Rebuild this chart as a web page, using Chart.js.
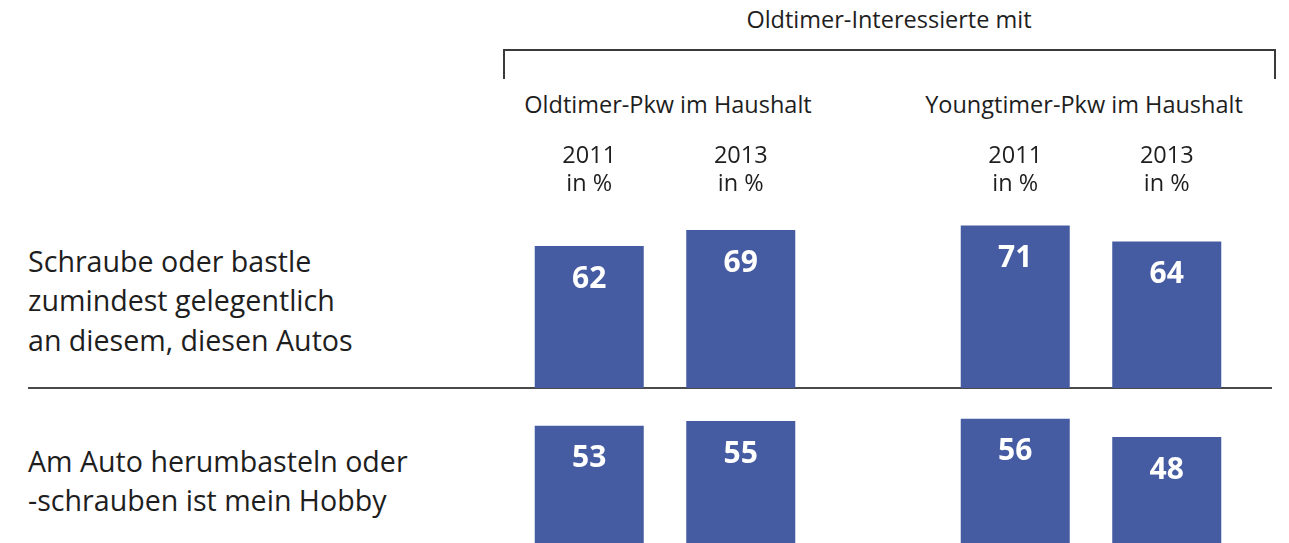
<!DOCTYPE html>
<html>
<head>
<meta charset="utf-8">
<script src="https://cdn.jsdelivr.net/npm/chart.js@4.4.1/dist/chart.umd.min.js"></script>
<style>
  html, body { margin: 0; padding: 0; background: #fff; overflow: hidden; width: 1289px; height: 543px; }
  body { position: relative; font-family: "Open Sans", sans-serif; color: #1e1e1e; }
  .t { position: absolute; white-space: nowrap; font-size: 23.5px; line-height: 23.5px; transform: translateX(-50%); text-align: center; }
  .row { position: absolute; left: 28px; font-size: 28.6px; line-height: 39.3px; white-space: nowrap; }
  .bracket { position: absolute; left: 503px; top: 49px; width: 773px; height: 30px; box-sizing: border-box;
             border: 2px solid #3a3a3a; border-bottom: none; }
  .sep { position: absolute; left: 28px; top: 386.5px; width: 1244px; height: 2px; background: #4a4a4a; }
  canvas { position: absolute; left: 452px; }
</style>
</head>
<body>
<div class="t" style="left:889px; top:8px;">Oldtimer-Interessierte mit</div>
<div class="bracket"></div>
<div class="sep"></div>
<canvas id="row1" width="852" height="229" style="top:159px;"></canvas>
<canvas id="row2" width="852" height="229" style="top:318px;"></canvas>

<script>
// data
const groups = ['Oldtimer-Pkw im Haushalt', 'Youngtimer-Pkw im Haushalt'];
const years = ['2011', '2013'];
const rowLabels = [
  ['Schraube oder bastle', 'zumindest gelegentlich', 'an diesem, diesen Autos'],
  ['Am Auto herumbasteln oder', '-schrauben ist mein Hobby']
];
// per group: [Oldtimer, Youngtimer]
const tinker2011 = [62, 71];
const tinker2013 = [69, 64];
const hobby2011 = [53, 56];
const hobby2013 = [55, 48];

const barColor = '#465ca2';
const canvasLeft = 452;

// white numbers inside the bars
const valueLabels = {
  id: 'valueLabels',
  afterDatasetsDraw(chart) {
    const ctx = chart.ctx;
    ctx.save();
    ctx.font = 'bold 30px "Open Sans"';
    ctx.fillStyle = '#ffffff';
    ctx.textAlign = 'center';
    ctx.textBaseline = 'middle';
    chart.data.datasets.forEach((ds, i) => {
      chart.getDatasetMeta(i).data.forEach((bar, j) => {
        ctx.fillText(ds.data[j], bar.x, bar.y + 33);
      });
    });
    ctx.restore();
  }
};

function makeChart(id, a, b) {
  return new Chart(document.getElementById(id), {
    type: 'bar',
    data: {
      labels: groups,
      datasets: [a, b].map((vals, i) => ({
        label: years[i],
        data: vals,
        backgroundColor: barColor,
        borderWidth: 0,
        categoryPercentage: 0.7113,
        barPercentage: 0.7195
      }))
    },
    options: {
      responsive: false,
      animation: false,
      devicePixelRatio: 1,
      events: [],
      layout: { padding: 0 },
      plugins: { legend: { display: false }, tooltip: { enabled: false } },
      scales: {
        x: { display: false, offset: true },
        y: { display: false, min: 0, max: 100 }
      }
    },
    plugins: [valueLabels]
  });
}

const chart1 = makeChart('row1', tinker2011, tinker2013);
const chart2 = makeChart('row2', hobby2011, hobby2013);

// header texts
function addText(cls, html, left, top) {
  const d = document.createElement('div');
  d.className = cls;
  d.innerHTML = html;
  d.style.left = left + 'px';
  d.style.top = top + 'px';
  document.body.appendChild(d);
}

const groupCenters = [668, 1084];
groups.forEach((g, i) => addText('t', g, groupCenters[i], 92.5));

years.forEach((y, d) => {
  chart1.getDatasetMeta(d).data.forEach(bar => {
    addText('t', y, canvasLeft + bar.x, 142.5);
    addText('t', 'in %', canvasLeft + bar.x, 170.5);
  });
});

// row labels
const rowTops = [241, 441];
rowLabels.forEach((lines, i) => {
  const d = document.createElement('div');
  d.className = 'row';
  d.style.top = rowTops[i] + 'px';
  d.innerHTML = lines.join('<br>');
  document.body.appendChild(d);
});
</script>
</body>
</html>
